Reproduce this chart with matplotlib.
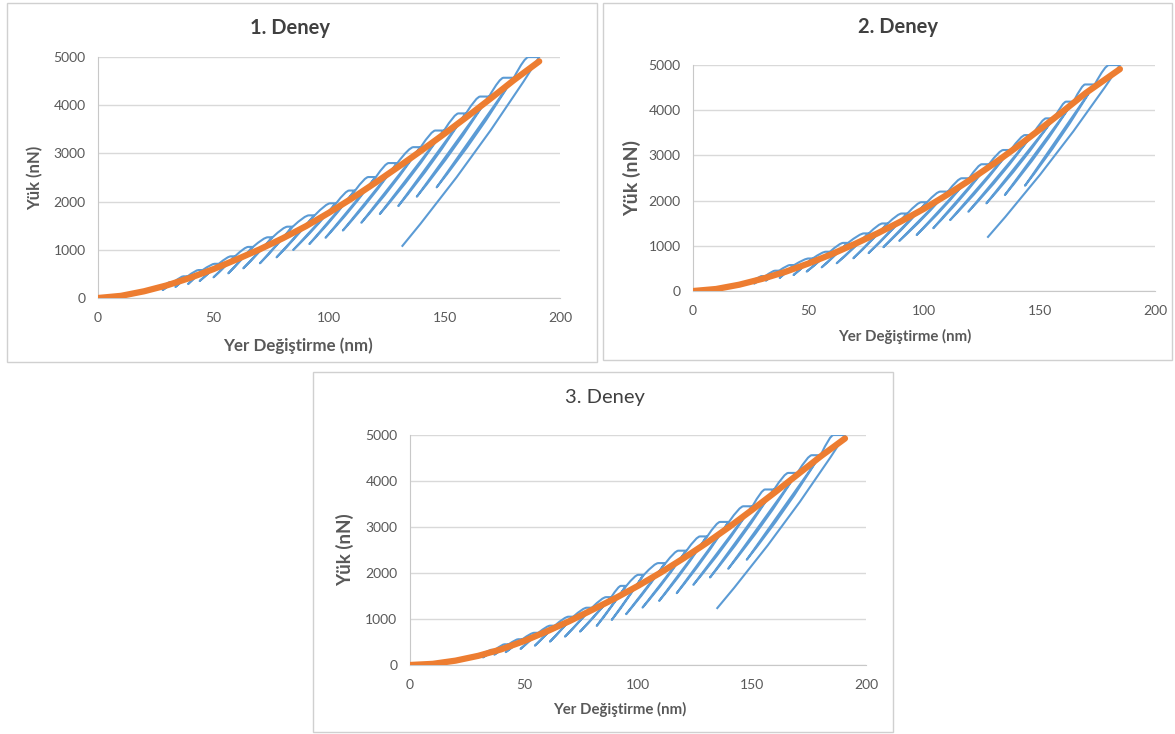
import matplotlib
matplotlib.use("Agg")
import matplotlib.pyplot as plt
from matplotlib.path import Path
from matplotlib.patches import PathPatch, Rectangle

plt.rcParams['font.family'] = ['Lato', 'DejaVu Sans']

# --- data -----------------------------------------------------------------
# each cycle: peak load, depth at start/end of hold, depth/load at end of unloading
titles = ["1. Deney", "2. Deney", "3. Deney"]

peak1 = [330, 450, 580, 710, 865, 1060, 1260, 1480, 1715, 1965, 2230, 2510, 2800, 3130, 3475, 3830, 4180, 4570, 5000]
hold_start1 = [31, 37, 43.5, 50.5, 57.5, 65, 73.5, 82, 91.3, 100.5, 108.7, 117, 125.8, 136.5, 146, 156, 165.4, 175.5, 186.3]
hold_end1 = [32.5, 38.5, 45, 52, 59, 66.8, 75.3, 84, 93.5, 102.8, 111, 120, 129.3, 139.4, 149.5, 159, 169, 179.7, 191]
unload_x1 = [28, 33.5, 39, 44, 50, 56.4, 62.9, 70.1, 77.3, 84.5, 91.5, 98.5, 106, 114, 122, 130, 138, 146.6, 131.5]
unload_p1 = [165, 230, 290, 353, 429, 512, 616, 720, 844, 996, 1120, 1250, 1400, 1562, 1743, 1909, 2102, 2296, 1065]

peak2 = [330, 450, 575, 720, 870, 1065, 1275, 1495, 1715, 1965, 2200, 2495, 2805, 3120, 3450, 3820, 4190, 4570, 5000]
hold_start2 = [29.5, 35.5, 42, 50, 57.5, 65, 74, 82, 90.3, 98.8, 107, 116.3, 125, 134.3, 143.7, 152.8, 161.5, 169.7, 180]
hold_end2 = [31, 37, 43.5, 51.5, 59, 66.8, 75.8, 84, 92.5, 101, 110, 119.2, 127.8, 137.2, 146.6, 156, 164.4, 173.6, 184.8]
unload_x2 = [26.5, 31.5, 37.5, 43.5, 49.2, 55.7, 62.2, 69.4, 76, 82.4, 89.3, 96.8, 104, 111.3, 119.2, 127, 135, 143.7, 127.4]
unload_p2 = [165, 230, 290, 354, 430, 524, 615, 725, 840, 970, 1110, 1240, 1390, 1570, 1755, 1940, 2124, 2330, 1180]

peak3 = [330, 450, 560, 700, 855, 1050, 1245, 1475, 1720, 1960, 2215, 2485, 2795, 3110, 3450, 3815, 4175, 4560, 5000]
hold_start3 = [35.5, 41.5, 47.5, 54.5, 61.5, 69.5, 77.5, 86, 92.5, 100.1, 108.9, 117.7, 127.2, 136, 146.2, 155.7, 165.9, 176.2, 185.7]
hold_end3 = [37, 43, 49, 56, 63.2, 71.3, 79.5, 88, 94.6, 102.3, 111.8, 121, 130.1, 139.6, 149.9, 159.4, 169.6, 179.8, 190.8]
unload_x3 = [32, 37, 42, 48.5, 54.8, 61.4, 68, 74.6, 81.9, 88.5, 94.8, 102, 109.3, 117, 124.3, 131.6, 139.6, 147.7, 134.5]
unload_p3 = [165, 225, 280, 350, 420, 508, 617, 726, 850, 980, 1105, 1248, 1394, 1562, 1743, 1902, 2092, 2288, 1220]

# orange curve (single loading)
fit_x1 = [0, 10, 20, 30, 40, 50, 60, 70, 80, 90, 100, 110, 120, 130, 140, 150, 160, 170, 180, 191]
fit_p1 = [0, 45, 140, 265, 420, 600, 800, 1010, 1240, 1490, 1770, 2070, 2390, 2720, 3060, 3410, 3770, 4140, 4520, 4910]
fit_x2 = [0, 10, 20, 30, 40, 50, 60, 70, 80, 90, 100, 110, 120, 130, 140, 150, 160, 170, 184.8]
fit_p2 = [0, 45, 140, 270, 425, 610, 815, 1040, 1280, 1540, 1820, 2130, 2460, 2810, 3180, 3570, 3970, 4380, 4910]
fit_x3 = [0, 10, 20, 30, 40, 50, 60, 70, 80, 90, 100, 110, 120, 130, 140, 150, 160, 170, 180, 190.8]
fit_p3 = [0, 25, 95, 200, 340, 520, 730, 955, 1200, 1450, 1720, 2010, 2320, 2650, 3000, 3370, 3750, 4140, 4530, 4924]

x_ticks = [0, 50, 100, 150, 200]
y_ticks = [0, 1000, 2000, 3000, 4000, 5000]

BLUE = "#5B9BD5"
ORANGE = "#ED7D31"
GREY = "#595959"


def cycles_path(peak, xs, xe, xu, pu):
    verts = [(0, 0), (xs[0] * 0.6, 0), (xs[0], peak[0])]
    codes = [Path.MOVETO, Path.CURVE3, Path.CURVE3]
    n = len(peak)
    for i in range(n):
        verts.append((xe[i], peak[i]))              # hold
        codes.append(Path.LINETO)
        L = xe[i] - xu[i]
        H = peak[i] - pu[i]
        verts += [(xe[i] - 0.45 * L, peak[i] - 0.52 * H), (xu[i], pu[i])]   # unload
        codes += [Path.CURVE3, Path.CURVE3]
        if i == n - 1:
            break
        r = xe[i] + 0.3
        verts.append((r, peak[i]))                 # reload
        codes.append(Path.LINETO)
        d = xs[i + 1] - r
        verts += [(r + 0.75 * d, peak[i + 1]), (xs[i + 1], peak[i + 1])]
        codes += [Path.CURVE3, Path.CURVE3]
    return Path(verts, codes)


fig = plt.figure(figsize=(11.75, 7.34), dpi=100)
fig.patch.set_facecolor("white")

# panel frames
for (x0, y0, w, h) in [(0.006, 0.5068, 0.502, 0.489), (0.5132, 0.5095, 0.4843, 0.4864),
                       (0.2664, 0.0027, 0.4936, 0.4905)]:
    fig.patches.append(Rectangle((x0, y0), w, h, transform=fig.transFigure,
                                 fill=False, edgecolor="#D0D0D0", lw=1.0))

panels = [
    dict(rect=[0.0834, 0.594, 0.3932, 0.3283], cyc=(peak1, hold_start1, hold_end1, unload_x1, unload_p1),
         fit=(fit_x1, fit_p1), title=(0.2468, 0.962, "bold"), ylab=(0.0298, 0.7575, 12),
         xlab=(0.2536, 0.5286, 12.2)),
    dict(rect=[0.5898, 0.6035, 0.3932, 0.3079], cyc=(peak2, hold_start2, hold_end2, unload_x2, unload_p2),
         fit=(fit_x2, fit_p2), title=(0.7643, 0.9632, "bold"), ylab=(0.5379, 0.7575, 14),
         xlab=(0.7702, 0.5422, 10.8)),
    dict(rect=[0.3489, 0.0940, 0.3881, 0.3134], cyc=(peak3, hold_start3, hold_end3, unload_x3, unload_p3),
         fit=(fit_x3, fit_p3), title=(0.5149, 0.4591, "normal"), ylab=(0.2936, 0.2507, 13.5),
         xlab=(0.5277, 0.0341, 10.8)),
]

for k, p in enumerate(panels):
    ax = fig.add_axes(p["rect"])
    ax.set_xlim(0, 200)
    ax.set_ylim(0, 5000)
    ax.set_xticks(x_ticks)
    ax.set_yticks(y_ticks)
    ax.grid(True, axis="y", color="#D9D9D9", lw=1.0)
    ax.set_axisbelow(True)
    for s in ["top", "right"]:
        ax.spines[s].set_visible(False)
    ax.spines["left"].set_color("#C8C8C8")
    ax.spines["bottom"].set_color("#C8C8C8")
    ax.tick_params(length=0, labelsize=10, labelcolor=GREY)
    ax.tick_params(axis="x", pad=10)
    ax.tick_params(axis="y", pad=9)

    ax.add_patch(PathPatch(cycles_path(*p["cyc"]), fill=False, edgecolor=BLUE,
                           lw=1.5, joinstyle="round", zorder=3))
    ax.plot(p["fit"][0], p["fit"][1], color=ORANGE, lw=4.5, solid_capstyle="round", zorder=4)

    tx, ty, tw = p["title"]
    fig.text(tx, ty, titles[k], ha="center", va="center", fontsize=14.5, fontweight=tw, color="#404040")
    lx, ly, ls = p["ylab"]
    fig.text(lx, ly, "Yük (nN)", ha="center", va="center", rotation=90, fontsize=ls,
             fontweight="bold", color=GREY)
    xx, xy, xs_ = p["xlab"]
    fig.text(xx, xy, "Yer Değiştirme (nm)", ha="center", va="center",
             fontsize=xs_, fontweight="bold", color=GREY)

plt.savefig("out.png", dpi=100, facecolor="white")
